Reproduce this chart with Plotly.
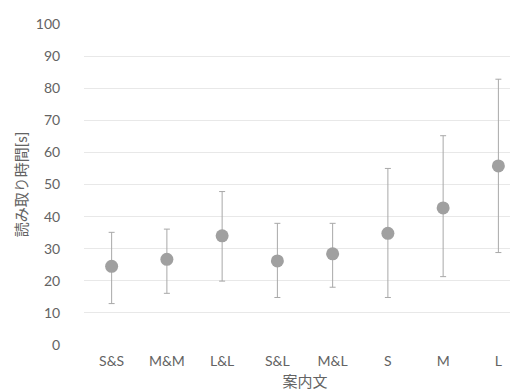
import plotly.graph_objects as go

categories = ["S&S", "M&M", "L&L", "S&L", "M&L", "S", "M", "L"]
mean_time = [24.5, 26.7, 34.0, 26.2, 28.4, 34.8, 42.7, 55.8]
upper_time = [35.1, 36.1, 47.8, 37.9, 37.9, 55.0, 65.2, 82.8]
lower_time = [12.9, 16.1, 19.9, 14.8, 18.0, 14.8, 21.3, 28.8]
y_ticks = [0, 10, 20, 30, 40, 50, 60, 70, 80, 90, 100]

err_plus = [u - m for u, m in zip(upper_time, mean_time)]
err_minus = [m - l for m, l in zip(mean_time, lower_time)]

FONT = "Lato, 'Noto Sans CJK JP', sans-serif"
TXT = "#636363"

fig = go.Figure(go.Scatter(
    x=categories, y=mean_time, mode="markers",
    marker=dict(symbol="circle", size=13, color="#A0A0A0"),
    error_y=dict(type="data", symmetric=False, array=err_plus, arrayminus=err_minus,
                 color="#A8A8A8", thickness=1, width=3),
    showlegend=False,
))

fig.update_layout(
    width=518, height=392,
    margin=dict(l=76, r=0, t=16, b=55),
    paper_bgcolor="white", plot_bgcolor="white",
    font=dict(family=FONT, size=14, color=TXT),
    xaxis=dict(
        type="category", range=[-0.5, 7.5], showgrid=False, zeroline=False,
        showline=False, ticks="outside", ticklen=3, tickcolor="rgba(0,0,0,0)",
        tickfont=dict(size=14, color=TXT),
        title=dict(text="案内文", font=dict(size=15, color=TXT), standoff=8),
    ),
    yaxis=dict(
        range=[0, 100], tickvals=y_ticks, showgrid=True, gridcolor="#E8E8E8",
        gridwidth=1, zeroline=False, showline=False,
        ticks="outside", ticklen=20, tickcolor="rgba(0,0,0,0)",
        tickfont=dict(size=14, color=TXT),
        title=dict(text="読み取り時間[s]", font=dict(size=15, color=TXT), standoff=4),
    ),
)

fig.write_html("out.html")
